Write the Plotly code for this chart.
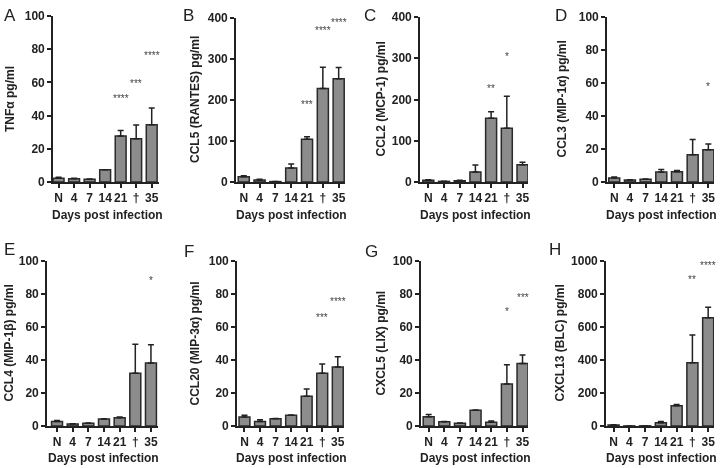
import plotly.graph_objects as go

# ---------------- data ----------------
categories = ["N", "4", "7", "14", "21", "†", "35"]
panel_letters = ["A", "B", "C", "D", "E", "F", "G", "H"]
y_titles = ["TNFα pg/ml", "CCL5 (RANTES) pg/ml", "CCL2 (MCP-1) pg/ml",
            "CCL3 (MIP-1α) pg/ml", "CCL4 (MIP-1β) pg/ml",
            "CCL20 (MIP-3α) pg/ml", "CXCL5 (LIX) pg/ml", "CXCL13 (BLC) pg/ml"]
x_title = "Days post infection"

tnfa_mean = [2.2, 2.0, 1.6, 7.4, 27.7, 26.0, 34.5]
tnfa_sem = [0.6, 0.3, 0.2, 0.0, 3.3, 8.3, 10.1]
ccl5_mean = [13, 5, 1, 34, 104.5, 228, 252]
ccl5_sem = [2.5, 1.5, 0.3, 10, 6, 52, 27]
ccl2_mean = [4, 1.5, 3, 24, 154.5, 130, 42]
ccl2_sem = [1.7, 0.3, 1, 17.5, 15.5, 78, 6]
ccl3_mean = [2.4, 1.2, 1.6, 6.0, 6.2, 16.5, 19.6]
ccl3_sem = [0.6, 0.2, 0.2, 1.5, 0.7, 9.3, 3.4]
ccl4_mean = [2.8, 1.2, 1.6, 4.2, 5.0, 32, 38.2]
ccl4_sem = [0.6, 0.2, 0.2, 0.2, 0.4, 17.5, 11.1]
ccl20_mean = [5.4, 2.8, 4.4, 6.5, 18, 32, 35.7]
ccl20_sem = [1.1, 1.0, 0.2, 0.2, 4.4, 5.5, 6.3]
cxcl5_mean = [5.6, 2.6, 1.6, 9.5, 2.2, 25.4, 37.9]
cxcl5_sem = [1.4, 0.2, 0.2, 0.2, 0.8, 11.7, 5.2]
cxcl13_mean = [6, 0.5, 1, 20, 123, 384, 656]
cxcl13_sem = [1, 0, 0, 8, 8, 167, 64]

y_max = [100, 400, 400, 100, 100, 100, 100, 1000]
y_dtick = [20, 100, 100, 20, 20, 20, 20, 200]

# significance marks: (category index, y position, label)
stars_A = [(4, 52, "****"), (5, 61.4, "***"), (6, 78, "****")]
stars_B = [(4, 197, "***"), (5, 377, "****"), (6, 397, "****")]
stars_C = [(4, 235, "**"), (5, 312, "*")]
stars_D = [(6, 59.7, "*")]
stars_E = [(6, 90, "*")]
stars_F = [(5, 67.7, "***"), (6, 77, "****")]
stars_G = [(5, 71.4, "*"), (6, 79.8, "***")]
stars_H = [(5, 909, "**"), (6, 990, "****")]

means = [tnfa_mean, ccl5_mean, ccl2_mean, ccl3_mean, ccl4_mean, ccl20_mean, cxcl5_mean, cxcl13_mean]
sems = [tnfa_sem, ccl5_sem, ccl2_sem, ccl3_sem, ccl4_sem, ccl20_sem, cxcl5_sem, cxcl13_sem]
stars = [stars_A, stars_B, stars_C, stars_D, stars_E, stars_F, stars_G, stars_H]

# ---------------- layout geometry (pixels) ----------------
W, H = 720, 468
# x0, x1, ytop, ybottom, xrange_lo, xrange_hi
geom = [
    (53, 159, 16, 182, -0.36, 6.47),
    (236, 345, 18, 182, -0.49, 6.40),
    (420, 528, 17, 182, -0.53, 6.35),
    (607, 714, 17, 182, -0.46, 6.36),
    (47, 158, 261, 426, -0.64, 6.45),
    (237, 344, 261, 426, -0.48, 6.40),
    (421, 528, 261, 426, -0.49, 6.35),
    (606, 714, 261, 426, -0.48, 6.37),
]
ytitle_x = [10, 195, 380, 561, 8, 194, 380, 559]
letter_pos = [(2, 4), (181, 4), (362, 4), (553, 4), (2, 238), (182, 240), (363, 240), (547, 238)]
xtitle_y = [215, 215, 215, 215, 458, 458, 458, 458]

FONT = "Liberation Sans, Arial, sans-serif"
INK = "#222222"

fig = go.Figure()
annotations = []
layout = dict(
    template="none",
    width=W, height=H,
    margin=dict(l=0, r=0, t=0, b=0, pad=0, autoexpand=False),
    paper_bgcolor="white", plot_bgcolor="white",
    showlegend=False,
    font=dict(family=FONT, color=INK),
)

for i in range(8):
    n = i + 1
    xs = "" if n == 1 else str(n)
    x0, x1, yt, yb, lo, hi = geom[i]
    fig.add_trace(go.Bar(
        x=list(range(len(categories))), y=means[i],
        width=0.7,
        marker=dict(color="#8c8c8c", line=dict(color="#2a2a2a", width=1.5)),
        error_y=dict(type="data", symmetric=False, array=sems[i],
                     arrayminus=[0] * len(categories),
                     color="#222222", thickness=1.5, width=3),
        xaxis="x" + xs, yaxis="y" + xs,
    ))
    common = dict(showline=True, linecolor=INK, linewidth=1.6,
                  ticks="outside", ticklen=4, tickwidth=1.5, tickcolor=INK,
                  showgrid=False, zeroline=False, automargin=False,
                  tickangle=0,
                  tickfont=dict(family=FONT, size=12, color=INK, weight="bold"))
    layout["xaxis" + xs] = dict(
        domain=[x0 / W, x1 / W], anchor="y" + xs,
        range=[lo, hi], tickmode="array",
        tickvals=list(range(len(categories))), ticktext=categories,
        fixedrange=True, **common)
    layout["yaxis" + xs] = dict(
        domain=[1 - yb / H, 1 - yt / H], anchor="x" + xs,
        range=[0, y_max[i]], tickmode="linear", tick0=0, dtick=y_dtick[i],
        fixedrange=True, **common)
    # y title
    annotations.append(dict(
        xref="paper", yref="paper", x=ytitle_x[i] / W, y=1 - (yt + yb) / 2 / H,
        text=y_titles[i], textangle=-90, showarrow=False,
        xanchor="center", yanchor="middle",
        font=dict(family=FONT, size=12, color=INK, weight="bold")))
    # x title
    annotations.append(dict(
        xref="paper", yref="paper", x=((x0 + x1) / 2 + 1) / W, y=1 - xtitle_y[i] / H,
        text=x_title, showarrow=False, xanchor="center", yanchor="middle",
        font=dict(family=FONT, size=12, color=INK, weight="bold")))
    # panel letter
    lx, ly = letter_pos[i]
    annotations.append(dict(
        xref="paper", yref="paper", x=lx / W, y=1 - ly / H,
        text=panel_letters[i], showarrow=False, xanchor="left", yanchor="top",
        font=dict(family=FONT, size=17, color=INK)))
    # significance stars
    for (cx, cy, lab) in stars[i]:
        annotations.append(dict(
            xref="x" + xs, yref="y" + xs, x=cx, y=cy, text=lab,
            showarrow=False, xanchor="center", yanchor="middle", yshift=-3,
            font=dict(family=FONT, size=10, color="#444444")))

layout["annotations"] = annotations
fig.update_layout(**layout)

post_js = (
    "document.body.style.margin='0';"
    "document.body.style.padding='0';"
    "document.querySelectorAll('.main-svg').forEach(function(s){s.style.filter='grayscale(1)';});"
)
fig.write_html("out.html", post_script=post_js, config={"displayModeBar": False})
